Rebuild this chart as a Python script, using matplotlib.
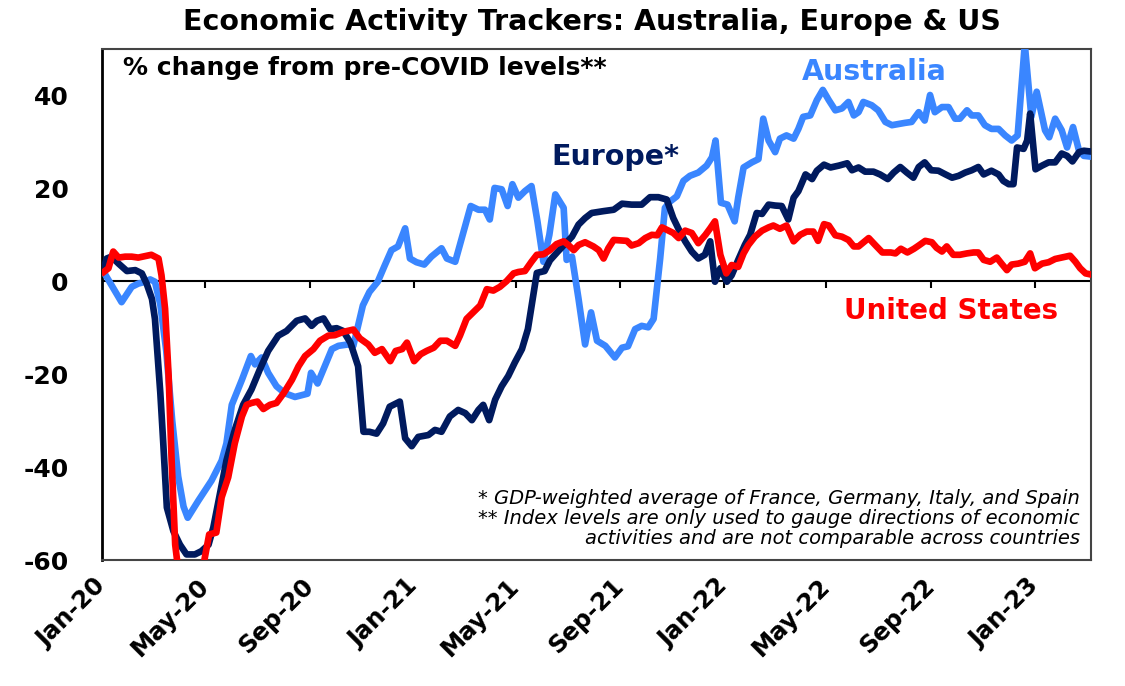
import matplotlib
matplotlib.use("Agg")
import matplotlib.pyplot as plt
import pandas as pd

# ---------------- data (weeks since 2020-01-03, % change) ----------------
base_date = "2020-01-03"

au_wk = [0, 3.0, 4.7, 5.8, 7.0, 7.8, 8.6, 9.5, 10.5, 11.5, 12.5, 13.4, 14.1, 15.9, 18.1,
         19.8, 20.6, 21.5, 23.2, 24.7, 25.4, 26.5, 27.6, 29.0, 30.4, 32.1, 34.2, 34.8,
         35.9, 38.3, 39.4, 41.0, 41.9, 43.5, 44.6, 46.0, 47.2, 48.3, 49.4, 50.6, 51.4,
         52.5, 53.8, 55.0, 56.7, 57.6, 59.0, 60.4, 61.6, 62.9, 64.0, 64.8, 65.6, 66.8,
         67.8, 68.6, 69.6, 70.7, 71.8, 72.8, 73.8, 74.8, 75.8, 77.2, 77.7, 78.6, 79.7,
         80.8, 81.8, 82.8, 84.2, 85.8, 87.0, 88.0, 89.2, 90.3, 91.4, 92.3, 93.4, 94.2,
         95.1, 96.2, 97.3, 98.4, 99.8, 101.2, 102.1, 102.7, 103.6, 104.7, 105.9, 106.5,
         107.4, 108.8, 109.9, 110.7, 111.6, 112.7, 113.5, 114.6, 115.8, 116.6, 117.4,
         118.6, 119.7, 120.7, 121.7, 122.8, 123.9, 125.0, 125.9, 126.7, 127.5, 128.9,
         130.0, 131.2, 132.3, 134.5, 135.6, 136.8, 137.8, 138.7, 139.5, 140.7, 141.8,
         142.9, 143.7, 144.9, 145.7, 146.8, 147.9, 149.0, 150.2, 151.3, 152.4, 153.4,
         154.6, 155.7, 156.6, 158.0, 158.7, 159.7, 160.8, 161.7, 162.7, 163.7, 164.5,
         165.9]
au_val = [2.0, -4.5, -1.2, -0.5, -0.1, 0.4, -0.1, -5.0, -15.0, -30.0, -42.0, -48.5, -50.9,
          -47.2, -42.9, -38.6, -34.9, -26.6, -21.2, -16.1, -17.9, -16.4, -19.7, -22.6,
          -24.1, -24.9, -24.2, -19.7, -22.0, -14.6, -13.9, -13.6, -13.9, -5.2, -2.3, -0.1,
          3.5, 6.7, 7.5, 11.4, 4.9, 4.1, 3.6, 5.3, 7.1, 4.9, 4.2, 10.7, 16.2, 15.4, 15.4,
          13.3, 20.1, 19.8, 16.2, 20.9, 18.0, 19.4, 20.5, 12.9, 4.2, 10.0, 18.7, 15.8, 4.6,
          5.3, -3.8, -13.6, -6.7, -12.8, -13.9, -16.4, -14.3, -14.0, -10.3, -9.6, -9.9,
          -8.1, 4.9, 15.8, 17.2, 18.3, 21.6, 22.7, 23.4, 24.9, 26.7, 30.3, 16.9, 16.5,
          12.9, 18.0, 24.5, 25.6, 26.3, 35.0, 30.3, 27.8, 30.7, 31.4, 30.7, 32.8, 35.4,
          35.7, 39.0, 41.2, 39.0, 36.8, 37.2, 38.6, 35.7, 36.4, 38.6, 37.9, 36.8, 34.3,
          33.6, 34.1, 34.3, 36.4, 34.6, 40.1, 36.4, 37.5, 37.5, 35.0, 35.0, 36.8, 35.7,
          35.7, 33.6, 32.8, 32.8, 31.4, 30.3, 31.4, 51.0, 35.4, 40.8, 32.5, 31.0, 35.0,
          32.5, 28.8, 33.2, 28.1, 27.0, 26.8]

eu_wk = [0, 0.5, 1.3, 2.5, 3.9, 5.3, 6.4, 7.2, 8.1, 8.6, 9.5, 10.0, 10.6, 11.7, 12.8, 13.9,
         15.3, 16.4, 17.6, 18.4, 19.5, 20.6, 22.0, 23.4, 24.8, 26.2, 27.6, 29.3, 30.7,
         32.4, 33.8, 34.9, 35.8, 36.9, 38.0, 39.1, 40.2, 41.4, 42.7, 43.6, 44.6, 45.8,
         46.9, 48.0, 49.7, 50.6, 51.7, 52.8, 54.5, 55.6, 56.7, 58.1, 59.5, 60.7, 61.8,
         62.9, 63.7, 64.7, 65.7, 66.8, 67.9, 69.0, 70.2, 71.2, 72.1, 72.7, 74.0, 74.9,
         76.3, 77.4, 78.6, 79.7, 80.8, 81.9, 83.9, 85.6, 87.0, 88.6, 90.3, 91.7, 93.1,
         94.5, 95.6, 96.7, 97.6, 98.7, 99.8, 100.9, 101.8, 102.6, 103.5, 104.6, 105.4,
         106.5, 107.6, 108.5, 109.6, 110.5, 111.6, 112.7, 113.8, 114.9, 115.8, 116.6,
         117.8, 118.9, 119.7, 120.9, 122.0, 123.4, 124.8, 125.6, 126.7, 127.8, 129.2,
         130.3, 131.6, 132.6, 133.7, 134.8, 135.9, 136.8, 137.8, 138.9, 140.1, 141.3,
         142.4, 143.5, 144.6, 145.7, 146.8, 147.7, 149.0, 150.2, 151.0, 151.9, 152.7,
         153.3, 154.4, 155.0, 155.5, 156.4, 157.5, 158.6, 159.7, 160.8, 161.7, 162.6,
         163.7, 164.5, 165.9]
eu_val = [2.8, 4.9, 5.3, 3.8, 2.2, 2.4, 1.7, -0.5, -3.8, -8.1, -24.0, -34.9, -48.7, -53.8,
          -56.7, -58.8, -58.8, -58.1, -56.7, -53.0, -45.8, -38.6, -32.0, -26.6, -23.3,
          -19.0, -15.0, -11.7, -10.7, -8.5, -8.0, -9.6, -8.5, -8.0, -10.3, -10.1, -10.7,
          -13.2, -18.3, -32.4, -32.4, -32.8, -30.6, -27.0, -25.9, -33.8, -35.5, -33.5,
          -33.1, -32.0, -32.4, -29.1, -27.7, -28.4, -29.9, -27.7, -26.6, -29.9, -25.5,
          -22.6, -20.4, -17.5, -14.6, -10.3, -3.0, 1.8, 2.2, 4.5, 6.5, 8.0, 9.6, 12.2,
          13.6, 14.7, 15.1, 15.4, 16.7, 16.5, 16.5, 18.1, 18.1, 17.6, 13.6, 10.7, 8.6, 6.4,
          4.9, 5.7, 8.6, -0.1, 2.8, -0.1, 1.3, 4.6, 7.8, 10.0, 14.7, 14.5, 16.5, 16.3,
          16.2, 13.3, 18.0, 19.4, 23.0, 22.0, 23.8, 25.1, 24.5, 24.9, 25.4, 23.9, 24.5,
          23.6, 23.6, 23.0, 22.0, 23.4, 24.6, 23.4, 22.3, 24.6, 25.6, 23.9, 23.8, 23.0,
          22.3, 22.7, 23.4, 23.9, 24.6, 23.0, 23.8, 23.0, 21.6, 20.9, 20.9, 28.8, 28.5,
          30.3, 36.1, 24.1, 24.9, 25.6, 25.6, 27.5, 27.0, 25.8, 27.8, 28.1, 27.9]

us_wk = [0, 0.8, 1.6, 2.5, 3.6, 4.7, 5.8, 6.9, 8.0, 9.2, 9.7, 10.3, 10.9, 11.4, 12.0, 12.5,
         13.5, 15.0, 16.2, 16.9, 17.7, 18.9, 19.8, 20.9, 22.0, 23.2, 24.0, 24.8, 25.8,
         26.8, 27.9, 29.0, 30.2, 31.6, 32.7, 33.8, 35.2, 36.3, 37.7, 38.8, 40.2, 41.9,
         43.0, 44.4, 45.5, 46.7, 48.1, 49.0, 50.1, 50.9, 52.1, 53.2, 54.2, 55.4, 56.5,
         57.6, 59.0, 59.8, 60.9, 62.0, 63.2, 64.3, 65.4, 66.5, 67.6, 68.8, 69.6, 70.7,
         71.8, 72.7, 73.8, 74.9, 76.0, 77.2, 78.0, 78.9, 79.7, 80.8, 82.2, 83.1, 83.9,
         84.7, 85.6, 86.7, 87.8, 88.6, 89.8, 90.9, 92.0, 92.9, 93.7, 94.5, 95.6, 96.5,
         97.6, 98.7, 99.8, 101.0, 101.8, 102.6, 103.5, 104.5, 105.4, 106.5, 107.4, 108.2,
         109.3, 110.5, 111.6, 112.4, 113.5, 114.6, 115.8, 116.9, 118.0, 119.1, 119.9,
         120.9, 121.7, 122.8, 123.9, 125.0, 125.9, 126.7, 128.4, 129.5, 130.7, 132.1,
         132.9, 133.8, 134.9, 136.0, 136.8, 137.9, 139.0, 139.8, 140.7, 141.5, 142.6,
         143.7, 144.9, 146.0, 146.8, 147.7, 148.8, 149.9, 150.7, 151.6, 152.4, 153.5,
         154.6, 155.5, 156.3, 157.5, 158.6, 159.7, 160.8, 162.2, 163.1, 163.9, 164.8,
         165.9]
us_val = [2.0, 2.8, 6.4, 5.1, 5.3, 5.3, 5.1, 5.4, 5.7, 4.9, 1.3, -5.9, -20.4, -38.6, -56.7,
          -62.0, -66.0, -67.0, -64.0, -60.0, -54.5, -54.1, -46.5, -42.2, -34.9, -29.1,
          -26.6, -26.2, -25.9, -27.5, -26.6, -26.2, -24.1, -21.2, -18.3, -16.1, -14.6,
          -12.8, -11.7, -11.6, -10.9, -10.4, -12.3, -13.6, -15.4, -14.6, -17.2, -15.0,
          -14.6, -13.2, -17.2, -15.7, -15.0, -14.3, -12.8, -12.8, -13.9, -11.7, -8.1,
          -6.7, -5.2, -1.7, -2.0, -1.2, 0.0, 1.7, 2.0, 2.2, 4.2, 5.7, 5.8, 6.7, 8.0, 8.6,
          7.8, 6.7, 7.8, 8.4, 7.5, 6.7, 4.9, 7.1, 8.9, 8.8, 8.7, 7.7, 8.2, 9.3, 10.0, 9.9,
          11.6, 11.1, 10.4, 9.3, 10.9, 10.4, 8.2, 10.0, 11.4, 12.9, 5.7, 1.7, 3.5, 3.1,
          6.0, 7.8, 9.6, 10.9, 11.6, 12.0, 11.3, 12.0, 8.6, 10.0, 10.7, 10.7, 8.7, 12.3,
          12.0, 9.9, 9.6, 8.9, 7.5, 7.5, 9.3, 7.8, 6.2, 6.2, 6.0, 7.0, 6.2, 7.0, 7.7, 8.7,
          8.4, 7.2, 6.4, 7.5, 5.7, 5.7, 6.0, 6.2, 6.2, 4.6, 4.2, 5.1, 3.8, 2.4, 3.6, 3.8,
          4.2, 6.0, 2.8, 3.8, 4.1, 4.8, 5.1, 5.5, 4.2, 2.8, 1.7, 1.4]

tick_dates = ["2020-01-01", "2020-05-01", "2020-09-01", "2021-01-01", "2021-05-01",
              "2021-09-01", "2022-01-01", "2022-05-01", "2022-09-01", "2023-01-01"]
tick_labels = ["Jan-20", "May-20", "Sep-20", "Jan-21", "May-21",
               "Sep-21", "Jan-22", "May-22", "Sep-22", "Jan-23"]
y_ticks = [-60, -40, -20, 0, 20, 40]
x_range = ["2020-01-01", "2023-03-08"]
y_range = [-60, 50]

title = "Economic Activity Trackers: Australia, Europe & US"
subtitle = "% change from pre-COVID levels**"
notes = ["* GDP-weighted average of France, Germany, Italy, and Spain",
         "** Index levels are only used to gauge directions of economic",
         "activities and are not comparable across countries"]

# ---------------- plotting ----------------
plt.rcParams['font.family'] = ['DejaVu Sans']

def to_dates(weeks):
    return pd.Timestamp(base_date) + pd.to_timedelta([w * 7 for w in weeks], unit="D")

C_AU = "#3A86FF"
C_EU = "#001A5E"
C_US = "#FF0000"

fig = plt.figure(figsize=(11.25, 6.86), dpi=100)
ax = fig.add_axes([102 / 1125, 1 - 560 / 686, 989 / 1125, 511 / 686])

lw = 4.8
ax.plot(to_dates(au_wk), au_val, color=C_AU, lw=lw, solid_joinstyle="round", zorder=3)
ax.plot(to_dates(eu_wk), eu_val, color=C_EU, lw=lw, solid_joinstyle="round", zorder=4)
ax.plot(to_dates(us_wk), us_val, color=C_US, lw=lw, solid_joinstyle="round", zorder=5)

ax.set_xlim(pd.Timestamp(x_range[0]), pd.Timestamp(x_range[1]))
ax.set_ylim(*y_range)

# zero line with small downward tick marks
ax.axhline(0, color="black", lw=1.5, zorder=2)
tdates = pd.to_datetime(tick_dates)
ax.vlines(tdates[1:], -1.4, 0, color="black", lw=1.5, zorder=2)

ax.set_xticks(tdates)
ax.set_xticklabels(tick_labels, rotation=45, ha="right", va="center",
                   rotation_mode="anchor", fontsize=17.5, fontweight="bold")
ax.tick_params(axis="x", length=0, pad=16)
ax.set_yticks(y_ticks)
ax.set_yticklabels([str(v) for v in y_ticks], fontsize=18, fontweight="bold")
ax.tick_params(axis="y", length=0, pad=24)

for s in ["top", "right", "bottom"]:
    ax.spines[s].set_color("#444444")
    ax.spines[s].set_linewidth(1.5)
ax.spines["left"].set_color("black")
ax.spines["left"].set_linewidth(2)

fig.text(0.526, 0.968, title, ha="center", va="center", fontsize=20.5, fontweight="bold")
ax.text(0.021, 0.963, subtitle, transform=ax.transAxes, ha="left", va="center",
        fontsize=18, fontweight="bold")
ax.text(0.781, 0.955, "Australia", transform=ax.transAxes, ha="center", va="center",
        fontsize=20.5, fontweight="bold", color=C_AU)
ax.text(0.519, 0.789, "Europe*", transform=ax.transAxes, ha="center", va="center",
        fontsize=20.5, fontweight="bold", color=C_EU)
ax.text(0.859, 0.487, "United States", transform=ax.transAxes, ha="center", va="center",
        fontsize=20, fontweight="bold", color=C_US)
for line, yy in zip(notes, [0.121, 0.082, 0.043]):
    ax.text(0.989, yy, line, transform=ax.transAxes, ha="right", va="center",
            fontsize=14, fontstyle="italic")

fig.savefig("out.png", dpi=100)
